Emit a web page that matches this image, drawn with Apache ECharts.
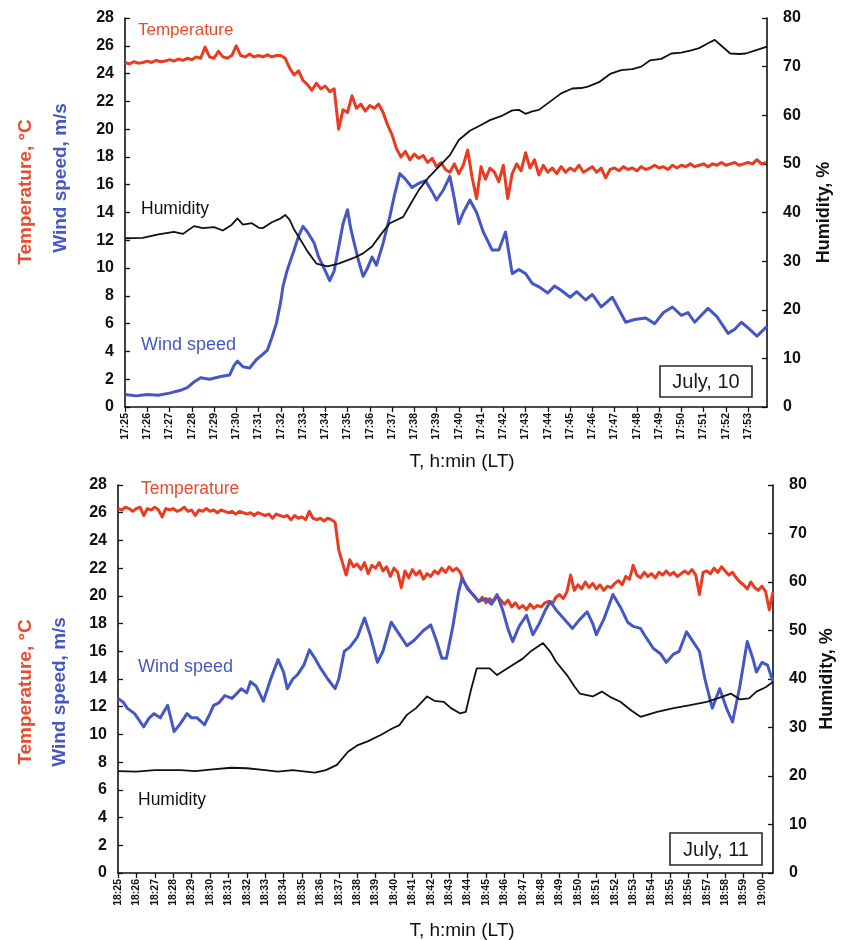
<!DOCTYPE html>
<html>
<head>
<meta charset="utf-8">
<script src="https://cdn.jsdelivr.net/npm/echarts@6/dist/echarts.min.js"></script>
<style>
  html, body { margin: 0; padding: 0; background: #ffffff; overflow: hidden; }
  #chart { width: 841px; height: 940px; }
</style>
</head>
<body>
<div id="chart"></div>
<script>
// Minute tick labels (one per minute from the start of each record)
const ticksJul10 = ['17:25','17:26','17:27','17:28','17:29','17:30','17:31','17:32','17:33','17:34',
  '17:35','17:36','17:37','17:38','17:39','17:40','17:41','17:42','17:43','17:44','17:45','17:46',
  '17:47','17:48','17:49','17:50','17:51','17:52','17:53'];
const ticksJul11 = ['18:25','18:26','18:27','18:28','18:29','18:30','18:31','18:32','18:33','18:34',
  '18:35','18:36','18:37','18:38','18:39','18:40','18:41','18:42','18:43','18:44','18:45','18:46',
  '18:47','18:48','18:49','18:50','18:51','18:52','18:53','18:54','18:55','18:56','18:57','18:58',
  '18:59','19:00'];

// Temperature, °C, sampled every 0.2 min from the first tick
const TEMP_STEP = 0.2;
const tempJul10 = [
  24.8, 24.7, 24.85, 24.75, 24.8,   24.9, 24.8, 24.95, 24.85, 24.9,
  25.0, 24.9, 25.05, 24.95, 25.1,   25.0, 25.2, 25.1, 25.9, 25.2,
  25.1, 25.6, 25.2, 25.1, 25.3,     26.0, 25.3, 25.2, 25.4, 25.2,
  25.3, 25.2, 25.35, 25.2, 25.3,    25.3, 25.1, 24.4, 23.9, 24.2,
  23.5, 23.2, 22.8, 23.3, 22.9,     23.1, 22.7, 22.9, 20.0, 21.4,
  21.2, 22.4, 21.5, 21.8, 21.3,     21.7, 21.5, 21.8, 21.2, 20.3,
  19.6, 18.6, 18.0, 18.4, 17.8,     18.2, 17.9, 18.1, 17.6, 17.9,
  17.3, 17.6, 17.1, 16.9, 17.5,     16.8, 17.4, 18.5, 16.5, 15.0,
  17.3, 16.4, 17.2, 16.9, 16.2,     17.4, 15.0, 16.8, 17.5, 17.0,
  18.3, 17.2, 17.8, 16.7, 17.4,     16.9, 17.2, 16.8, 17.3, 16.9,
  17.2, 17.0, 17.4, 16.9, 17.1,     17.3, 16.9, 17.2, 16.5, 17.1,
  17.2, 17.0, 17.3, 17.1, 17.2,     17.0, 17.3, 17.1, 17.2, 17.4,
  17.2, 17.3, 17.1, 17.4, 17.2,     17.4, 17.3, 17.5, 17.3, 17.4,
  17.5, 17.3, 17.5, 17.4, 17.6,     17.4, 17.5, 17.6, 17.4, 17.5,
  17.6, 17.5, 17.8, 17.5, 17.6
];
const tempJul11 = [
  26.3, 26.2, 26.4, 26.3, 26.1,   26.3, 26.4, 25.8, 26.3, 26.2,
  26.4, 26.2, 25.7, 26.3, 26.2,   26.3, 26.1, 26.2, 26.4, 26.1,
  26.2, 25.8, 26.2, 26.1, 26.3,   26.1, 26.2, 26.0, 26.2, 26.1,
  26.0, 26.1, 25.9, 26.1, 26.0,   25.9, 26.0, 25.8, 26.0, 25.9,
  25.8, 25.9, 25.6, 25.9, 25.8,   25.7, 25.8, 25.5, 25.8, 25.6,
  25.7, 25.5, 26.1, 25.6, 25.5,   25.6, 25.4, 25.6, 25.5, 25.3,
  23.3, 22.4, 21.5, 22.6, 22.1,   22.3, 21.9, 22.4, 21.6, 22.2,
  22.0, 22.4, 21.8, 22.1, 21.4,   22.0, 21.7, 20.6, 21.8, 21.3,
  21.9, 21.5, 21.8, 21.2, 21.6,   21.4, 21.8, 21.6, 22.0, 21.7,
  22.1, 21.8, 22.0, 21.7, 21.0,   20.6, 20.2, 19.9, 19.6, 19.9,
  19.5, 19.8, 19.6, 20.0, 19.7,   19.4, 19.7, 19.2, 19.5, 19.1,
  19.3, 19.0, 19.4, 19.1, 19.3,   19.2, 19.5, 19.6, 19.4, 19.9,
  20.1, 19.8, 20.3, 21.5, 20.4,   20.8, 20.5, 21.0, 20.6, 20.9,
  20.5, 20.8, 20.4, 20.7, 20.6,   20.9, 21.1, 20.8, 21.4, 21.2,
  22.2, 21.5, 21.3, 21.7, 21.4,   21.6, 21.3, 21.7, 21.5, 21.8,
  21.5, 21.7, 21.4, 21.6, 21.8,   21.6, 21.9, 21.5, 20.1, 21.7,
  21.8, 21.6, 22.0, 21.7, 22.1,   21.8, 21.5, 21.7, 21.3, 21.0,
  20.8, 20.5, 21.0, 20.6, 20.4,   20.7, 20.3, 19.0, 20.3
];

// Wind speed, m/s: [minutes from first tick, value]
const windJul10 = [
  [0,0.9],[0.5,0.8],[1.0,0.9],[1.5,0.85],[2.0,1.0],[2.5,1.2],[2.8,1.4],[3.1,1.8],[3.4,2.1],[3.8,2.0],
  [4.3,2.2],[4.7,2.3],[4.9,3.0],[5.05,3.3],[5.3,2.9],[5.6,2.8],[5.9,3.4],[6.2,3.8],[6.4,4.1],[6.6,5.0],
  [6.8,6.0],[7.0,7.6],[7.1,8.7],[7.3,9.9],[7.6,11.3],[7.8,12.3],[8.0,13.0],[8.2,12.6],[8.5,11.8],[8.7,10.8],
  [9.0,9.8],[9.2,9.1],[9.4,9.8],[9.6,11.5],[9.8,13.2],[10.0,14.2],[10.15,12.8],[10.3,11.8],[10.5,10.5],[10.7,9.4],
  [10.9,10.0],[11.1,10.8],[11.3,10.2],[11.6,11.8],[11.9,13.7],[12.1,15.2],[12.35,16.8],[12.6,16.4],[12.9,15.8],[13.2,16.1],
  [13.5,16.3],[13.8,15.5],[14.0,14.9],[14.3,15.6],[14.6,16.6],[14.8,15.0],[15.0,13.2],[15.2,14.0],[15.5,14.9],[15.8,14.0],
  [16.1,12.6],[16.5,11.3],[16.8,11.3],[17.1,12.6],[17.4,9.6],[17.7,9.9],[18.0,9.6],[18.3,8.9],[18.6,8.65],[19.0,8.2],
  [19.3,8.7],[19.6,8.4],[20.0,7.9],[20.3,8.3],[20.7,7.7],[21.0,8.1],[21.4,7.2],[21.9,7.9],[22.2,7.0],[22.5,6.1],
  [22.9,6.3],[23.4,6.4],[23.8,6.0],[24.2,6.8],[24.6,7.2],[25.0,6.6],[25.3,6.8],[25.6,6.1],[25.9,6.6],[26.2,7.1],
  [26.6,6.5],[27.1,5.3],[27.4,5.6],[27.7,6.1],[28.0,5.7],[28.4,5.1],[28.85,5.8]
];
const windJul11 = [
  [0,12.6],[0.3,12.3],[0.5,11.9],[0.9,11.5],[1.4,10.55],[1.7,11.2],[1.96,11.5],[2.3,11.2],[2.7,12.1],[3.05,10.2],
  [3.4,10.8],[3.75,11.5],[4.0,11.2],[4.3,11.2],[4.7,10.7],[5.0,11.5],[5.2,12.1],[5.5,12.3],[5.8,12.8],[6.2,12.6],
  [6.7,13.3],[7.0,13.0],[7.2,13.8],[7.5,13.5],[7.9,12.4],[8.3,14.0],[8.7,15.4],[9.0,14.5],[9.2,13.3],[9.5,14.0],
  [9.75,14.3],[10.1,15.0],[10.4,16.1],[10.7,15.5],[11.0,14.8],[11.4,14.0],[11.8,13.3],[12.0,14.0],[12.3,16.0],[12.6,16.3],
  [13.0,17.0],[13.4,18.4],[13.7,17.2],[14.1,15.2],[14.4,16.0],[14.85,18.1],[15.2,17.4],[15.7,16.4],[16.1,16.8],[16.6,17.5],
  [17.0,17.9],[17.3,16.8],[17.6,15.5],[17.85,15.5],[18.2,17.8],[18.5,20.2],[18.7,21.3],[19.0,20.5],[19.3,20.1],[19.6,19.6],
  [20.0,19.8],[20.3,19.4],[20.6,20.1],[20.9,19.0],[21.2,17.6],[21.45,16.7],[21.8,17.8],[22.2,18.6],[22.55,17.2],[22.9,18.0],
  [23.2,18.9],[23.5,19.6],[23.8,19.0],[24.2,18.4],[24.7,17.65],[25.1,18.3],[25.5,18.85],[25.8,18.0],[26.0,17.2],[26.4,18.3],
  [26.9,20.1],[27.3,19.2],[27.7,18.1],[28.0,17.8],[28.4,17.65],[28.7,17.0],[29.1,16.2],[29.5,15.8],[29.8,15.2],[30.2,15.8],
  [30.5,16.0],[30.9,17.4],[31.2,16.8],[31.6,16.0],[31.9,14.0],[32.3,11.9],[32.7,13.3],[33.1,11.8],[33.4,10.9],[33.8,13.5],
  [34.2,16.7],[34.5,15.5],[34.7,14.5],[35.0,15.2],[35.3,15.0],[35.6,13.8]
];

// Relative humidity, %: [minutes from first tick, value]
const humJul10 = [
  [0,34.7],[0.8,34.8],[1.5,35.5],[2.2,36.0],[2.6,35.6],[3.1,37.2],[3.5,36.8],[4.0,37.0],[4.4,36.3],[4.8,37.5],
  [5.05,38.8],[5.3,37.5],[5.7,37.8],[6.0,36.9],[6.2,36.8],[6.6,38.0],[7.0,38.8],[7.2,39.5],[7.4,38.5],[7.6,36.5],
  [7.9,34.3],[8.2,32.0],[8.6,29.5],[9.1,28.9],[9.6,29.5],[10.25,30.6],[10.7,31.6],[11.1,33.0],[11.5,35.5],[11.9,37.8],
  [12.5,39.1],[12.8,41.5],[13.2,44.6],[13.6,47.0],[14.1,49.4],[14.6,51.8],[15.0,54.9],[15.5,56.8],[16.0,58.0],[16.4,59.0],
  [16.9,59.8],[17.4,61.0],[17.7,61.1],[18.0,60.3],[18.3,60.8],[18.6,61.1],[19.1,62.8],[19.6,64.5],[20.1,65.5],[20.5,65.6],
  [20.8,65.9],[21.3,66.8],[21.8,68.5],[22.3,69.3],[22.8,69.5],[23.2,70.0],[23.6,71.3],[24.1,71.6],[24.55,72.7],[25.0,72.9],
  [25.4,73.3],[25.8,73.8],[26.2,74.8],[26.5,75.5],[26.8,74.3],[27.2,72.7],[27.6,72.6],[27.9,72.7],[28.3,73.3],[28.85,74.1]
];
const humJul11 = [
  [0,21.0],[1.0,20.9],[2.0,21.2],[3.4,21.2],[4.2,21.0],[5.0,21.3],[6.15,21.7],[7.0,21.6],[8.0,21.2],[8.7,20.9],
  [9.5,21.2],[10.2,20.9],[10.7,20.7],[11.3,21.2],[11.9,22.3],[12.5,25.0],[13.0,26.3],[13.6,27.2],[14.3,28.5],[14.9,29.8],
  [15.3,30.5],[15.7,32.6],[16.2,34.0],[16.8,36.4],[17.2,35.5],[17.7,35.3],[18.1,34.0],[18.6,32.9],[18.9,33.2],[19.2,38.0],
  [19.5,42.2],[20.2,42.2],[20.6,40.8],[21.0,41.8],[21.45,42.9],[22.0,44.2],[22.4,45.6],[23.1,47.4],[23.5,45.6],[23.8,43.6],
  [24.4,40.8],[24.8,38.5],[25.1,37.0],[25.8,36.4],[26.3,37.4],[26.8,36.2],[27.3,35.3],[27.9,33.5],[28.4,32.2],[29.3,33.2],
  [30.2,34.0],[31.1,34.6],[32.0,35.3],[32.9,36.4],[33.3,37.0],[33.8,35.8],[34.3,36.0],[34.7,37.4],[35.2,38.3],[35.6,39.4]
];

const RED = '#ea3a1f';
const RED_TEXT = '#ec4a2c';
const BLUE = '#4557c3';
const INK = '#111111';
const FONT = '"Liberation Sans", Arial, Helvetica, sans-serif';

function timeAxis(gridIndex, labels, max) {
  const idx = labels.map((_, i) => i);
  return {
    type: 'value', gridIndex: gridIndex, min: 0, max: max, interval: 1,
    axisLine: { show: true, onZero: false, lineStyle: { color: INK, width: 1.6 } },
    axisTick: { show: true, inside: false, length: 5, customValues: idx, lineStyle: { color: INK, width: 1.3 } },
    axisLabel: {
      rotate: 90, margin: 6, fontSize: 10.5, fontWeight: 'bold', color: INK, fontFamily: FONT,
      customValues: idx,
      formatter: v => (Number.isInteger(v) && labels[v]) ? labels[v] : ''
    },
    splitLine: { show: false }
  };
}
function leftAxis(gridIndex) {
  return {
    type: 'value', gridIndex: gridIndex, position: 'left', min: 0, max: 28, interval: 2,
    axisLine: { show: true, lineStyle: { color: INK, width: 1.6 } },
    axisTick: { show: true, inside: true, length: 5, lineStyle: { color: INK, width: 1.3 } },
    axisLabel: { fontSize: 16, fontWeight: 'bold', color: INK, margin: 11, fontFamily: FONT },
    splitLine: { show: false }
  };
}
function rightAxis(gridIndex, nameGap) {
  return {
    type: 'value', gridIndex: gridIndex, position: 'right', min: 0, max: 80, interval: 10,
    name: 'Humidity, %', nameLocation: 'middle', nameRotate: 90, nameGap: nameGap,
    nameTextStyle: { fontSize: 18, fontWeight: 'bold', color: INK, fontFamily: FONT },
    axisLine: { show: true, lineStyle: { color: INK, width: 1.6 } },
    axisTick: { show: true, inside: true, length: 5, lineStyle: { color: INK, width: 1.3 } },
    axisLabel: { fontSize: 16, fontWeight: 'bold', color: INK, margin: 16, fontFamily: FONT },
    splitLine: { show: false }
  };
}
function line(name, data, xi, yi, color, width) {
  return {
    name: name, type: 'line', xAxisIndex: xi, yAxisIndex: yi, data: data,
    symbol: 'none', showSymbol: false, smooth: false, clip: true, animation: false,
    lineStyle: { color: color, width: width, join: 'round' }
  };
}
function txt(x, y, text, color, size) {
  return {
    type: 'text', x: x, y: y, silent: true,
    style: { text: text, fill: color, font: size + 'px ' + FONT, textAlign: 'left', textVerticalAlign: 'middle' }
  };
}
function ctxt(x, y, text, color, size) {
  return {
    type: 'text', x: x, y: y, silent: true,
    style: { text: text, fill: color, font: size + 'px ' + FONT, textAlign: 'center', textVerticalAlign: 'middle' }
  };
}
function vtxt(x, y, text, color, size) {
  return {
    type: 'text', x: x, y: y, rotation: Math.PI / 2, silent: true,
    style: { text: text, fill: color, font: 'bold ' + size + 'px ' + FONT, textAlign: 'center', textVerticalAlign: 'middle' }
  };
}
function dateBox(x, y, w, h, text) {
  return [
    { type: 'rect', shape: { x: x, y: y, width: w, height: h }, style: { fill: '#ffffff', stroke: '#2a2a2a', lineWidth: 1.6 }, z: 10 },
    { type: 'text', x: x + w / 2, y: y + h / 2 + 1, z: 11,
      style: { text: text, fill: '#1a1a1a', font: '20px ' + FONT, textAlign: 'center', textVerticalAlign: 'middle' } }
  ];
}

const withTime = arr => arr.map((v, i) => [+(i * TEMP_STEP).toFixed(2), v]);

const chart = echarts.init(document.getElementById('chart'), null, { renderer: 'canvas' });
chart.setOption({
  backgroundColor: '#ffffff',
  animation: false,
  grid: [
    { left: 125, top: 18, width: 642, height: 389, containLabel: false, outerBoundsMode: 'none' },
    { left: 118, top: 485, width: 655, height: 388, containLabel: false, outerBoundsMode: 'none' }
  ],
  xAxis: [ timeAxis(0, ticksJul10, 28.85), timeAxis(1, ticksJul11, 35.6) ],
  yAxis: [ leftAxis(0), rightAxis(0, 48), leftAxis(1), rightAxis(1, 42) ],
  series: [
    line('Temperature', withTime(tempJul10), 0, 0, RED, 3),
    line('Wind speed', windJul10, 0, 0, BLUE, 3),
    line('Humidity', humJul10, 0, 1, INK, 1.8),
    line('Temperature', withTime(tempJul11), 1, 2, RED, 3),
    line('Wind speed', windJul11, 1, 2, BLUE, 3),
    line('Humidity', humJul11, 1, 3, INK, 1.8)
  ],
  graphic: [
    // axis titles
    vtxt(26, 192, 'Temperature, °C', RED_TEXT, 19),
    vtxt(61, 178, 'Wind speed, m/s', BLUE, 19),
    vtxt(26, 692, 'Temperature, °C', RED_TEXT, 19),
    vtxt(60, 692, 'Wind speed, m/s', BLUE, 19),
    ctxt(462, 462, 'T, h:min (LT)', INK, 19),
    ctxt(462, 931, 'T, h:min (LT)', INK, 19),
    // in-plot series captions
    txt(138, 30, 'Temperature', RED_TEXT, 17),
    txt(141, 209, 'Humidity', INK, 17.5),
    txt(141, 345, 'Wind speed', BLUE, 18),
    txt(141, 489, 'Temperature', RED_TEXT, 17.5),
    txt(138, 667, 'Wind speed', BLUE, 18),
    txt(138, 800, 'Humidity', INK, 17.5),
    ...dateBox(660, 366, 92, 31, 'July, 10'),
    ...dateBox(670, 833, 92, 32, 'July, 11')
  ]
});
</script>
</body>
</html>
